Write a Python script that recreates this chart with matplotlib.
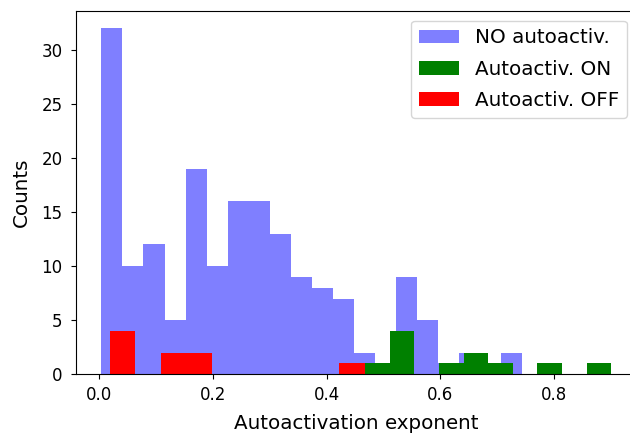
import numpy as np
import matplotlib
matplotlib.use('Agg')
import matplotlib.pyplot as plt

# histogram counts
noCounts = [32, 10, 12, 5, 19, 10, 16, 16, 13, 9, 8, 7, 2, 1, 9, 5, 1, 2, 1, 2]
noRange = (0.0042, 0.744)
onCounts = [1, 4, 0, 1, 2, 1, 0, 1, 0, 1]
onRange = (0.4676, 0.901)
offCounts = [4, 0, 2, 2, 0, 0, 0, 0, 0, 1]
offRange = (0.0189, 0.4676)
labels = ['NO autoactiv.', 'Autoactiv. ON', 'Autoactiv. OFF']

plt.rcParams['font.size'] = 14.3
plt.rcParams['xtick.labelsize'] = 12
plt.rcParams['ytick.labelsize'] = 12
plt.rcParams['xtick.major.pad'] = 5
plt.rcParams['ytick.major.pad'] = 6
plt.rcParams['xtick.major.size'] = 3.6
plt.rcParams['ytick.major.size'] = 3.6

fig = plt.figure(figsize=(6.3, 4.34), dpi=100)
# the right spine falls just past the picture's edge, as in the reference
ax = fig.add_axes([0.1205, 0.1376, 0.8905, 0.838])


def drawHist(counts, rng, **kw):
  edges = np.linspace(rng[0], rng[1], len(counts) + 1)
  ax.hist(edges[:-1], bins=edges, weights=counts, **kw)


drawHist(noCounts, noRange, color='blue', alpha=0.5, label=labels[0])
drawHist(onCounts, onRange, color='green', label=labels[1])
drawHist(offCounts, offRange, color='red', label=labels[2])

ax.set_xlabel('Autoactivation exponent', labelpad=7)
ax.set_ylabel('Counts', labelpad=7.5)
ax.legend(loc='upper right', labelspacing=0.61)

fig.savefig('out.png', dpi=100)
